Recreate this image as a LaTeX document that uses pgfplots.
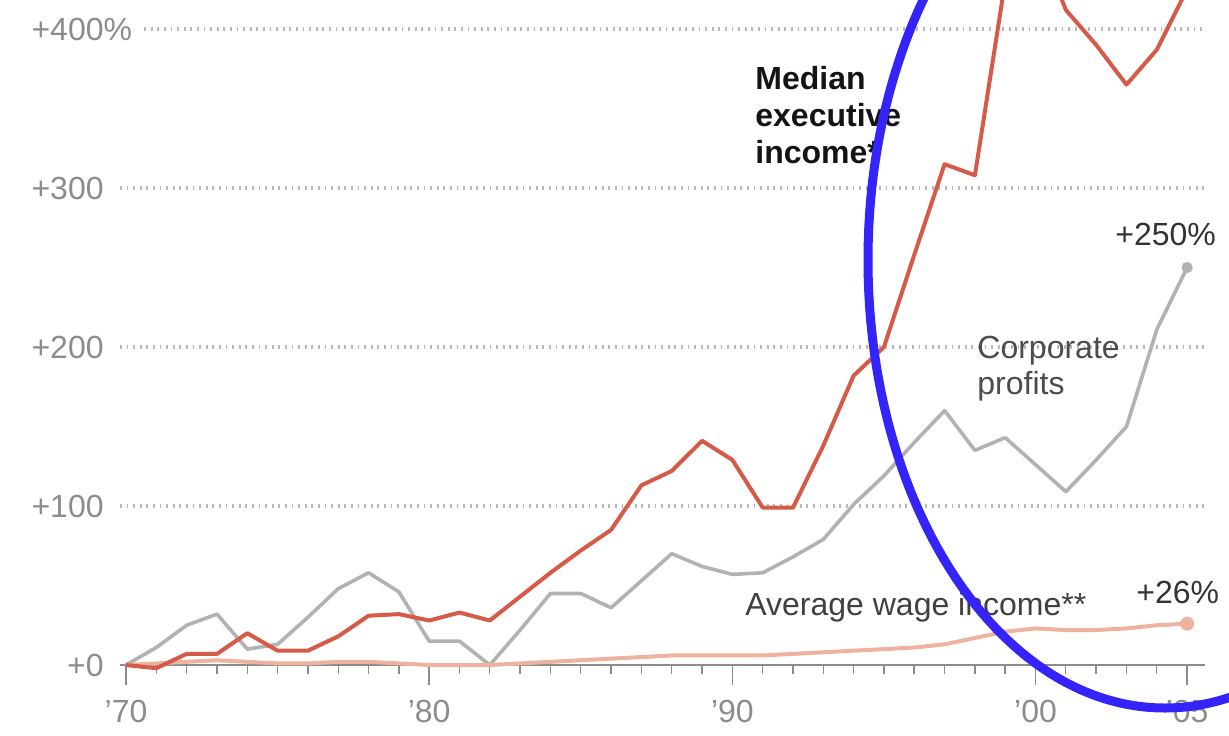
\documentclass[border=0pt]{standalone}
\usepackage{fontspec}
\setmainfont{Liberation Sans}
\usepackage{pgfplots}
\usepackage{pgfplotstable}
\pgfplotsset{compat=1.18}
\definecolor{exec}{RGB}{214,90,72}
\definecolor{prof}{RGB}{178,178,178}
\definecolor{wage}{RGB}{240,178,160}
\definecolor{tickc}{RGB}{140,140,140}
\definecolor{gridc}{RGB}{185,185,185}
\definecolor{circ}{RGB}{52,36,250}
\pgfplotstableread{
year exec prof wage
1970 0 0 0
1971 -2 11 1
1972 7 25 2
1973 7 32 3
1974 20 10 2
1975 9 13 1
1976 9 30 1
1977 18 48 2
1978 31 58 2
1979 32 46 1
1980 28 15 0
1981 33 15 0
1982 28 0 0
1983 43 22 1
1984 58 45 2
1985 72 45 3
1986 85 36 4
1987 113 53 5
1988 122 70 6
1989 141 62 6
1990 129 57 6
1991 99 58 6
1992 99 68 7
1993 138 79 8
1994 182 101 9
1995 200 119 10
1996 258 140 11
1997 315 160 13
1998 308 135 17
1999 430 143 21
2000 460 126 23
2001 412 109 22
2002 390 129 22
2003 365 150 23
2004 387 211 25
2005 425 250 26
}\data
\newcommand\lbl{\fontsize{16}{18}\selectfont}
\begin{document}
\begin{tikzpicture}[x=1pt,y=1pt]
\useasboundingbox (0,0) rectangle (614.5,367.5);
\begin{axis}[
  at={(60pt,27.05pt)}, anchor=south west,
  scale only axis, width=542.5pt, height=340.26pt,
  xmin=1969.802, xmax=2005.59, ymin=-10, ymax=418,
  axis x line=middle, axis y line=none,
  axis line style={-, draw=tickc, line width=0.8pt},
  xtick={1970,1980,1990,2000,2005},
  xticklabels={’70,’80,’90,’00,’05},
  minor xtick={1970,...,2005},
  tick align=outside,
  major tick length=10pt, minor tick length=4.5pt,
  x tick style={draw=tickc, line width=0.7pt},
  xticklabel style={font=\lbl, text=tickc, yshift=-4pt},
  ytick=\empty,
  clip mode=individual,
]
% grid lines
\draw[gridc, line width=2.2pt, dash pattern=on 0.9pt off 2.4pt] (axis cs:1969.802,100) -- (axis cs:2005.59,100);
\draw[gridc, line width=2.2pt, dash pattern=on 0.9pt off 2.4pt] (axis cs:1969.802,200) -- (axis cs:2005.59,200);
\draw[gridc, line width=2.2pt, dash pattern=on 0.9pt off 2.4pt] (axis cs:1969.802,300) -- (axis cs:2005.59,300);
\draw[gridc, line width=2.2pt, dash pattern=on 0.9pt off 2.4pt] (axis cs:1970.6,400) -- (axis cs:2005.59,400);
% y labels
\node[anchor=east, inner sep=0pt, font=\lbl, text=tickc, xshift=-8pt] at (axis cs:1969.802,0) {+0};
\node[anchor=east, inner sep=0pt, font=\lbl, text=tickc, xshift=-8pt] at (axis cs:1969.802,100) {+100};
\node[anchor=east, inner sep=0pt, font=\lbl, text=tickc, xshift=-8pt] at (axis cs:1969.802,200) {+200};
\node[anchor=east, inner sep=0pt, font=\lbl, text=tickc, xshift=-8pt] at (axis cs:1969.802,300) {+300};
\node[anchor=east, inner sep=0pt, font=\lbl, text=tickc, xshift=-8pt] at (axis cs:1969.802,400) {+400\rlap{\%}};
\addplot[prof, line width=1.8pt, line join=round] table[x=year, y=prof] {\data};
\addplot[wage, line width=2pt, line join=round] table[x=year, y=wage] {\data};
\addplot[exec, line width=2pt, line join=round] table[x=year, y=exec] {\data};
\addplot[only marks, mark=*, mark size=2.6pt, prof, mark options={fill=prof, draw=prof}] coordinates {(2005,250)};
\addplot[only marks, mark=*, mark size=3.3pt, wage, mark options={fill=wage, draw=wage}] coordinates {(2005,26)};
\end{axis}
% text labels
\node[anchor=north west, inner sep=0pt, align=left, font=\fontsize{16}{18.5}\selectfont\bfseries, text=black!92] at (377.5,334.5) {Median\\executive\\income*};
\node[anchor=north west, inner sep=0pt, align=left, font=\fontsize{16}{18}\selectfont, text=black!70] at (488.5,199.5) {Corporate\\profits};
\node[anchor=base west, inner sep=0pt, font=\lbl, text=black!80] at (557.5,245) {+250\%};
\node[anchor=base west, inner sep=0pt, font=\lbl, text=black!80] at (568,66) {+26\%};
\node[anchor=base west, inner sep=0pt, font=\lbl, text=black!75] at (372.5,60) {Average wage income**};
% annotation ellipse
\draw[circ, line width=4.5pt] (582.5,237.5) ellipse [x radius=148.5, y radius=224];
\end{tikzpicture}
\end{document}
